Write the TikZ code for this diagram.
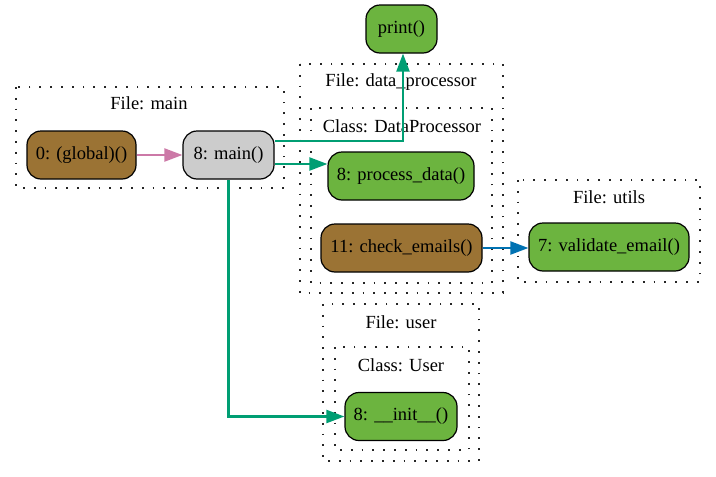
\documentclass[tikz,border=0pt]{standalone}
\usepackage{fontspec}
\setmainfont{Liberation Serif}
\usetikzlibrary{arrows.meta,calc}
\definecolor{fnbrown}{RGB}{155,115,52}
\definecolor{fngreen}{RGB}{108,180,63}
\definecolor{fngray}{RGB}{204,204,204}
\definecolor{callgreen}{RGB}{0,158,115}
\definecolor{callpink}{RGB}{204,121,167}
\definecolor{callblue}{RGB}{0,114,178}
\begin{document}
\begin{tikzpicture}[x=1pt,y=-1pt,
  every node/.style={font=\fontsize{18.5}{20}\selectfont},
  fn/.style={draw=black,line width=1.2pt,rounded corners=14pt,inner sep=0pt,minimum height=48pt},
  cluster/.style={draw=black!85,line width=1.2pt,dash pattern=on 1.8pt off 9pt},
  clabel/.style={inner sep=0pt,anchor=center},
  call/.style={line width=2.2pt,-{Triangle[length=18pt,width=13pt]}}]
\useasboundingbox (0,0) rectangle (716,477);

% clusters
\draw[cluster] (16,87) rectangle (284,188);
\node[clabel] (lmain) at (149,103) {File: main};
\draw[cluster] (300,64) rectangle (503,293);
\node[clabel] (ldp) at (401,82) {File: data\_processor};
\draw[cluster] (311,108) rectangle (492,283);
\node[clabel] (ldpc) at (402,126) {Class: DataProcessor};
\draw[cluster] (518,180) rectangle (700,282);
\node[clabel] (lutils) at (609,197) {File: utils};
\draw[cluster] (323,304) rectangle (479,461);
\node[clabel] (luser) at (401,322) {File: user};
\draw[cluster] (335,347) rectangle (469,450);
\node[clabel] (luserc) at (401,365) {Class: User};

% functions
\node[fn,fill=fnbrown,minimum width=109pt] (glob) at (81.5,155) {0: (global)()};
\node[fn,fill=fngray,minimum width=91pt] (main) at (228.5,155) {8: main()};
\node[fn,fill=fngreen,minimum width=71pt] (print) at (401.5,29) {print()};
\node[fn,fill=fngreen,minimum width=146pt] (proc) at (401,176) {8: process\_data()};
\node[fn,fill=fnbrown,minimum width=161pt] (check) at (401.5,248) {11: check\_emails()};
\node[fn,fill=fngreen,minimum width=160pt] (valid) at (609,247) {7: validate\_email()};
\node[fn,fill=fngreen,minimum width=112pt] (init) at (401,416.5) {8: \_\_init\_\_()};

% calls
\draw[call,callpink] (glob.east) -- (main.west);
\draw[call,callgreen] ($(main.east)+(0,-14)$) -| ($(print.south)+(1.5,0)$);
\draw[call,callgreen] ($(main.east)+(0,9)$) -- ($(proc.west)+(0,-12)$);
\draw[call,callgreen] (main.south) |- (init.west);
\draw[call,callblue] (check.east) -- (valid.west |- check.east);
\end{tikzpicture}
\end{document}
